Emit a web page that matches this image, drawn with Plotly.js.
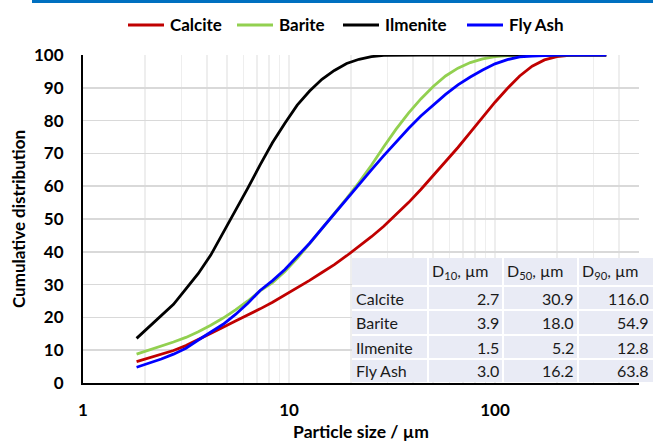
<!DOCTYPE html>
<html>
<head>
<meta charset="utf-8">
<script src="https://cdn.plot.ly/plotly-3.0.1.min.js"></script>
<style>html,body{margin:0;padding:0;background:#fff;}#chart{width:653px;height:442px;}</style>
</head>
<body>
<div id="chart"></div>
<script>
// Particle sizes (µm)
const sizes = [1.82, 2.09, 2.4, 2.75, 3.16, 3.63, 4.17, 4.79, 5.5, 6.31, 7.24, 8.32, 9.55, 10.96, 12.59, 14.45, 16.6, 19.05, 21.88, 25.12, 28.84, 33.11, 38.02, 43.65, 50.12, 57.54, 66.07, 75.86, 87.1, 100, 114.8, 131.8, 151.4, 173.8, 199.5, 229, 263, 302, 346.7];
const calcite = [6.5, 7.6, 8.7, 9.9, 11.4, 13.2, 15.1, 17.0, 18.9, 20.7, 22.6, 24.6, 26.8, 29.0, 31.3, 33.7, 36.1, 38.8, 41.7, 44.6, 47.8, 51.3, 55.0, 59.0, 63.2, 67.4, 71.8, 76.4, 81.0, 85.6, 89.8, 93.6, 96.6, 98.5, 99.5, 99.9, 100, 100, 100];
const barite = [8.8, 10.0, 11.3, 12.5, 13.9, 15.6, 17.6, 19.8, 22.3, 25.0, 28.1, 30.6, 34.0, 38.0, 42.5, 47.0, 51.6, 56.3, 61.2, 66.4, 72.0, 77.4, 82.3, 86.6, 90.4, 93.6, 96.0, 97.7, 98.8, 99.5, 99.8, 100, 100, 100, 100, 100, 100, 100, 100];
const ilmenite = [13.6, 17.0, 20.5, 24.0, 28.7, 33.4, 39.0, 45.7, 52.5, 59.4, 66.5, 73.3, 79.2, 84.7, 89.0, 92.6, 95.3, 97.4, 98.7, 99.5, 99.9, 100, 100, 100, 100, 100, 100, 100, 100, 100, 100, 100, 100, 100, 100, 100, 100, 100, 100];
const flyAsh = [4.8, 6.0, 7.3, 8.8, 10.6, 13.1, 15.4, 17.9, 20.9, 24.3, 28.2, 31.2, 34.6, 38.5, 42.6, 47.1, 51.6, 56.1, 60.7, 65.0, 69.3, 73.5, 77.6, 81.4, 84.8, 88.0, 90.9, 93.3, 95.4, 97.3, 98.6, 99.4, 99.7, 99.9, 100, 100, 100, 100, 100];

const seriesNames = ['Calcite', 'Barite', 'Ilmenite', 'Fly Ash'];
const seriesColors = ['#C00000', '#92D050', '#000000', '#0000FF'];

// Table data
const tableHeader = ['', 'D<sub>10</sub>, µm', 'D<sub>50</sub>, µm', 'D<sub>90</sub>, µm'];
const d10 = ['2.7', '3.9', '1.5', '3.0'];
const d50 = ['30.9', '18.0', '5.2', '16.2'];
const d90 = ['116.0', '54.9', '12.8', '63.8'];

const xTickVals = [1, 10, 100];
const xMinorVals = [2,3,4,5,6,7,8,9,20,30,40,50,60,70,80,90,200,300,400];
const yTickVals = [0,10,20,30,40,50,60,70,80,90,100];

const W = 653, H = 442;
const mL = 83, mR = 0, mT = 55, mB = 59;
const plotW = W - mL - mR, plotH = H - mT - mB;
const px2x = p => (p - mL) / plotW;
const px2y = p => (H - mB - p) / plotH;
const FONT = 'Lato, sans-serif';

const lineSeries = [calcite, barite, ilmenite, flyAsh];
const traces = lineSeries.map((ys, i) => ({
  type: 'scatter', mode: 'lines', x: sizes, y: ys, name: seriesNames[i],
  line: {color: seriesColors[i], width: 2.8}, showlegend: false
}));

const shapes = [];
const annotations = [];

// top accent bar
shapes.push({type: 'rect', xref: 'paper', yref: 'paper', x0: px2x(32), x1: 1, y0: px2y(3), y1: px2y(0),
  fillcolor: '#0070C0', line: {width: 0}});

// legend (manual)
const legLineX = [128, 237, 343, 467];
const legY = 25;
seriesNames.forEach((n, i) => {
  shapes.push({type: 'line', xref: 'paper', yref: 'paper', x0: px2x(legLineX[i]), x1: px2x(legLineX[i] + 36),
    y0: px2y(legY), y1: px2y(legY), line: {color: seriesColors[i], width: 3}});
  annotations.push({xref: 'paper', yref: 'paper', x: px2x(legLineX[i] + 40), y: px2y(legY), xanchor: 'left', yanchor: 'middle',
    text: n, showarrow: false, font: {family: FONT, size: 17, color: '#000000', weight: 'bold'}});
});

// table (manual)
const colEdges = [352, 428, 503, 578, 653];
const rowEdges = [258, 286, 310, 335, 359, 382];
shapes.push({type: 'rect', xref: 'paper', yref: 'paper', layer: 'above',
  x0: px2x(colEdges[0]), x1: px2x(colEdges[4]), y0: px2y(rowEdges[5]), y1: px2y(rowEdges[0]),
  fillcolor: '#E9EBF5', line: {width: 0}});
colEdges.slice(1, 4).forEach(cx => shapes.push({type: 'line', xref: 'paper', yref: 'paper', layer: 'above',
  x0: px2x(cx), x1: px2x(cx), y0: px2y(rowEdges[5]), y1: px2y(rowEdges[0]), line: {color: '#FFFFFF', width: 2}}));
rowEdges.slice(1, 5).forEach(ry => shapes.push({type: 'line', xref: 'paper', yref: 'paper', layer: 'above',
  x0: px2x(colEdges[0]), x1: px2x(colEdges[4]), y0: px2y(ry), y1: px2y(ry), line: {color: '#FFFFFF', width: 2}}));

const tfont = {family: FONT, size: 16, color: '#1A1A1A'};
tableHeader.forEach((h, c) => {
  if (!h) return;
  annotations.push({xref: 'paper', yref: 'paper', x: px2x(colEdges[c] + 2), y: px2y((rowEdges[0] + rowEdges[1]) / 2 - 1),
    xanchor: 'left', yanchor: 'middle', text: h, showarrow: false, font: tfont});
});
const cols = [seriesNames, d10, d50, d90];
cols.forEach((col, c) => {
  col.forEach((v, r) => {
    const yc = (rowEdges[r + 1] + rowEdges[r + 2]) / 2;
    const left = c === 0;
    annotations.push({xref: 'paper', yref: 'paper',
      x: px2x(left ? colEdges[c] + 2 : colEdges[c + 1] - 2), y: px2y(yc),
      xanchor: left ? 'left' : 'right', yanchor: 'middle', text: v, showarrow: false, font: tfont});
  });
});

const layout = {
  width: W, height: H,
  margin: {l: mL, r: mR, t: mT, b: mB, pad: 0},
  paper_bgcolor: '#FFFFFF', plot_bgcolor: '#FFFFFF',
  font: {family: FONT, color: '#000000'},
  showlegend: false,
  xaxis: {
    type: 'log', domain: [0, px2x(639)], range: [0, Math.log10(500)],
    tickvals: xTickVals, ticktext: xTickVals.map(String),
    showgrid: true, gridcolor: '#EEEEEE', gridwidth: 1.5,
    minor: {tickvals: xMinorVals, showgrid: true, gridcolor: '#EEEEEE', gridwidth: 1.5, ticks: ''},
    showline: true, linecolor: '#000000', linewidth: 2, zeroline: false,
    ticks: '', ticklabelstandoff: 11,
    tickfont: {family: FONT, size: 17, color: '#000000', weight: 'bold'},
    title: {text: 'Particle size / µm', standoff: 6, font: {family: FONT, size: 17.5, color: '#000000', weight: 'bold'}}
  },
  yaxis: {
    range: [0, 100], tickvals: yTickVals,
    showgrid: true, gridcolor: '#D9D9D9', gridwidth: 1.5,
    showline: true, linecolor: '#000000', linewidth: 2, zeroline: false,
    ticks: '', ticklabelstandoff: 14,
    tickfont: {family: FONT, size: 17, color: '#000000', weight: 'bold'},
    title: {text: 'Cumulative distribution', standoff: 4, font: {family: FONT, size: 17, color: '#000000', weight: 'bold'}}
  },
  shapes: shapes,
  annotations: annotations
};

Plotly.newPlot('chart', traces, layout, {displayModeBar: false, staticPlot: true});
</script>
</body>
</html>
